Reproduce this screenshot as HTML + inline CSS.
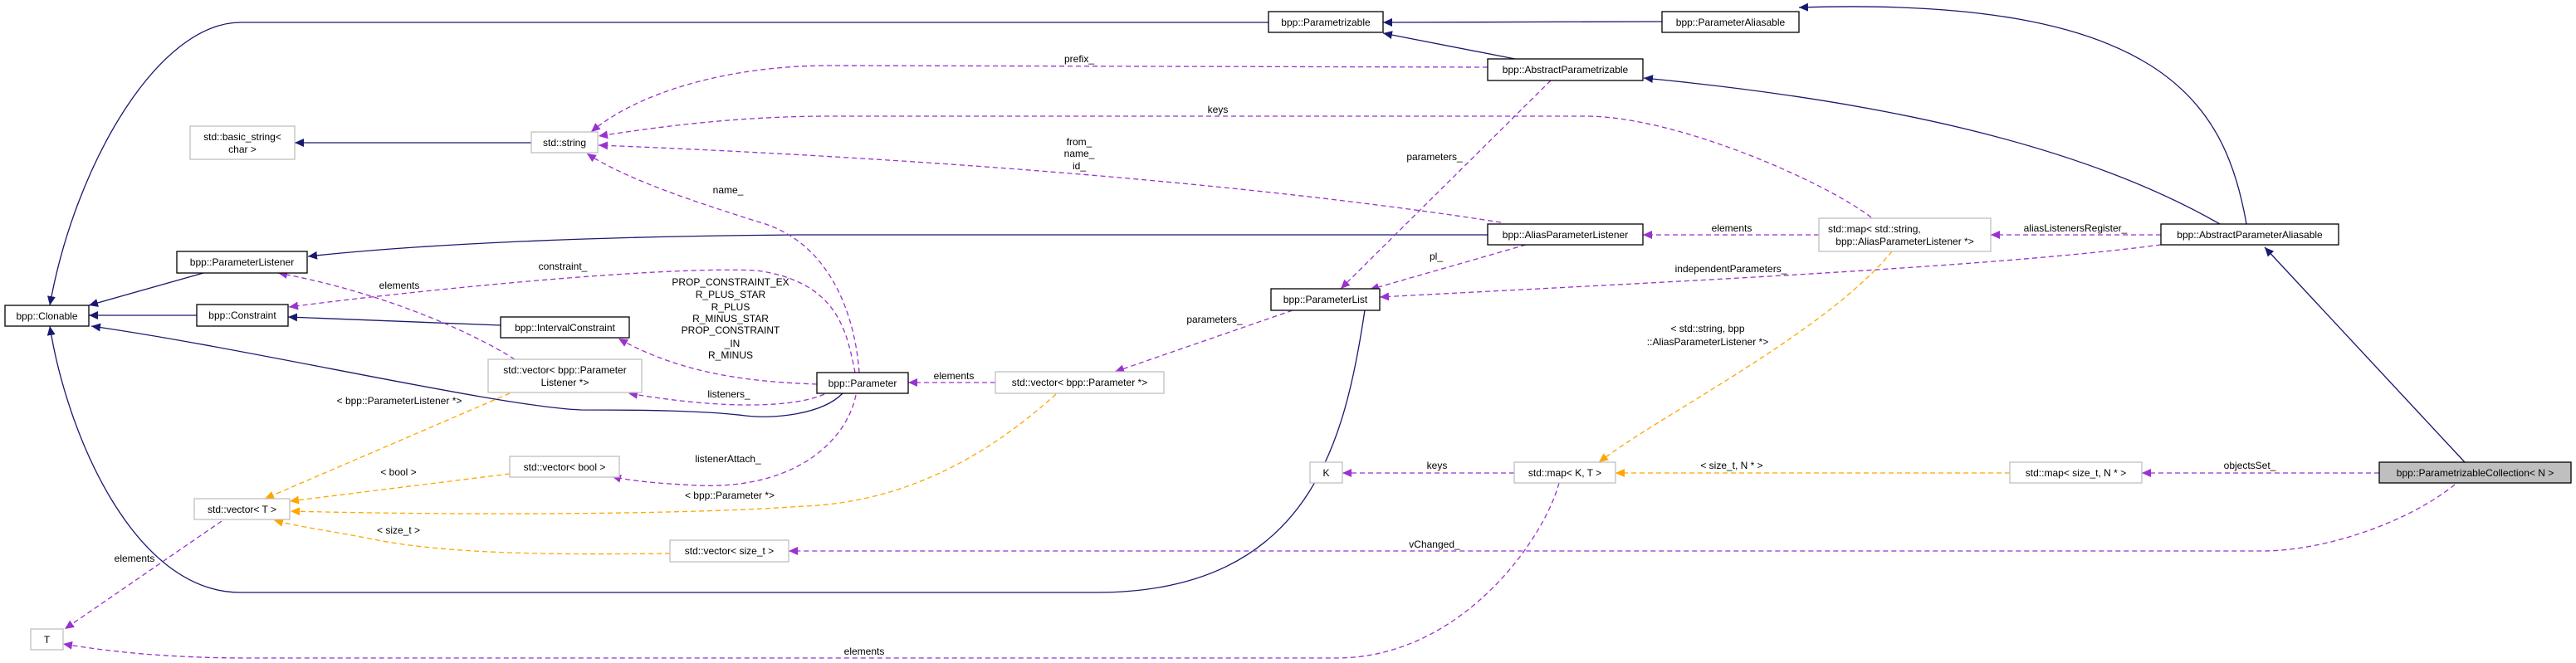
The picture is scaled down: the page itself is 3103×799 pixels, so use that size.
<!DOCTYPE html>
<html><head><meta charset="utf-8"><style>
html,body{margin:0;padding:0;background:#fff}
svg{display:block}
text{font-family:"Liberation Sans",Arial,sans-serif;font-size:12px;fill:#000}
.n{fill:#fff;stroke:#000;stroke-width:1.3}
.g{fill:#fff;stroke:#bfbfbf;stroke-width:1.3}
.inh{fill:none;stroke:#191970;stroke-width:1.3}
.p{fill:none;stroke:#9a32cd;stroke-width:1.3;stroke-dasharray:6,4}
.o{fill:none;stroke:#ffa500;stroke-width:1.3;stroke-dasharray:6,4}
</style></head><body>
<svg width="3103" height="799" viewBox="0 0 3103 799" xmlns="http://www.w3.org/2000/svg">
<defs>
<marker id="ai" markerUnits="userSpaceOnUse" markerWidth="12" markerHeight="10" refX="11" refY="5" orient="auto"><path d="M0,0 L11,5 L0,10 z" fill="#191970"/></marker>
<marker id="ap" markerUnits="userSpaceOnUse" markerWidth="12" markerHeight="10" refX="11" refY="5" orient="auto"><path d="M0,0 L11,5 L0,10 z" fill="#9a32cd"/></marker>
<marker id="ao" markerUnits="userSpaceOnUse" markerWidth="12" markerHeight="10" refX="11" refY="5" orient="auto"><path d="M0,0 L11,5 L0,10 z" fill="#ffa500"/></marker>
</defs>

<!-- inheritance edges -->
<path class="inh" marker-end="url(#ai)" d="M1528,27 L290,27 C190,27 90,200 60,368"/>
<path class="inh" marker-end="url(#ai)" d="M2002,26 L1666,27"/>
<path class="inh" marker-end="url(#ai)" d="M1825,71 L1666,40"/>
<path class="inh" marker-end="url(#ai)" d="M2706,270 C2680,120 2600,-5 2167,9"/>
<path class="inh" marker-end="url(#ai)" d="M2674,270 C2500,170 2250,120 1980,94"/>
<path class="inh" marker-end="url(#ai)" d="M2969,557 L2728,298"/>
<path class="inh" marker-end="url(#ai)" d="M1792,283 L960,283 C700,285 500,295 371,309"/>
<path class="inh" marker-end="url(#ai)" d="M245,329 L107,368"/>
<path class="inh" marker-end="url(#ai)" d="M237,380 L107,380"/>
<path class="inh" marker-end="url(#ai)" d="M603,392 L347,382"/>
<path class="inh" marker-end="url(#ai)" d="M1015,474 C990,500 930,505 898,501 C850,495 780,494 700,494 C600,490 300,420 110,393"/>
<path class="inh" marker-end="url(#ai)" d="M1644,374 C1620,530 1580,714 1320,714 L290,714 C160,714 80,520 60,393"/>
<path class="inh" marker-end="url(#ai)" d="M640,172 L355,172"/>

<!-- purple dashed -->
<path class="p" marker-end="url(#ap)" d="M1792,81 L1000,79 C880,79 770,110 712,159"/>
<path class="p" marker-end="url(#ap)" d="M2254,262 C2200,220 2020,140 1910,140 L1000,140 C880,140 780,155 721,164"/>
<path class="p" marker-end="url(#ap)" d="M1808,268 C1500,220 1100,190 721,175"/>
<path class="p" marker-end="url(#ap)" d="M1035,449 C1030,380 1000,290 912,267 C860,250 760,220 707,185"/>
<path class="p" marker-end="url(#ap)" d="M1030,449 C1020,400 1010,340 912,326 C800,320 500,350 348,370"/>
<path class="p" marker-end="url(#ap)" d="M620,433 C560,395 450,350 335,329"/>
<path class="p" marker-end="url(#ap)" d="M984,463 C900,460 820,450 745,408"/>
<path class="p" marker-end="url(#ap)" d="M993,475 C960,490 880,495 757,474"/>
<path class="p" marker-end="url(#ap)" d="M1031,476 C1020,530 960,590 840,585 C800,583 760,580 737,574"/>
<path class="p" marker-end="url(#ap)" d="M1199,461 L1094,461"/>
<path class="p" marker-end="url(#ap)" d="M1557,374 L1343,448"/>
<path class="p" marker-end="url(#ap)" d="M1868,97 L1615,348"/>
<path class="p" marker-end="url(#ap)" d="M1838,295 L1650,349"/>
<path class="p" marker-end="url(#ap)" d="M2603,295 C2400,322 2000,340 1662,358"/>
<path class="p" marker-end="url(#ap)" d="M2191,283 L1979,283"/>
<path class="p" marker-end="url(#ap)" d="M2603,283 L2398,283"/>
<path class="p" marker-end="url(#ap)" d="M1824,570 L1617,570"/>
<path class="p" marker-end="url(#ap)" d="M2866,570 L2580,570"/>
<path class="p" marker-end="url(#ap)" d="M2957,584 C2900,630 2800,664 2725,664 L950,664"/>
<path class="p" marker-end="url(#ap)" d="M1878,582 C1860,650 1760,793 1610,793 L300,793 C200,793 130,785 76,776"/>
<path class="p" marker-end="url(#ap)" d="M267,628 L78,758"/>

<!-- orange dashed -->
<path class="o" marker-end="url(#ao)" d="M614,474 L319,601"/>
<path class="o" marker-end="url(#ao)" d="M614,571 L349,604"/>
<path class="o" marker-end="url(#ao)" d="M1272,475 C1200,540 1100,605 968,610 C800,622 500,620 350,616"/>
<path class="o" marker-end="url(#ao)" d="M807,667 C700,668 550,670 450,650 C400,640 360,635 330,627"/>
<path class="o" marker-end="url(#ao)" d="M2279,303 C2200,400 2000,500 1926,557"/>
<path class="o" marker-end="url(#ao)" d="M2421,570 L1946,570"/>

<!-- nodes -->
<rect class="n" x="6" y="368" width="101" height="25"/><text x="56.5" y="385" text-anchor="middle">bpp::Clonable</text>
<rect class="n" x="213" y="303" width="157" height="26"/><text x="291.5" y="320" text-anchor="middle">bpp::ParameterListener</text>
<rect class="n" x="237" y="367" width="110" height="26"/><text x="292" y="384" text-anchor="middle">bpp::Constraint</text>
<rect class="g" x="229" y="152" width="126" height="40"/><text x="292" y="169" text-anchor="middle">std::basic_string&lt;</text><text x="292" y="184" text-anchor="middle">char &gt;</text>
<rect class="g" x="640" y="159" width="80" height="25"/><text x="680" y="176" text-anchor="middle">std::string</text>
<rect class="n" x="603" y="382" width="155" height="25"/><text x="680.5" y="399" text-anchor="middle">bpp::IntervalConstraint</text>
<rect class="g" x="588" y="433" width="185" height="40"/><text x="680.5" y="450" text-anchor="middle">std::vector&lt; bpp::Parameter</text><text x="680.5" y="465" text-anchor="middle">Listener *&gt;</text>
<rect class="n" x="984" y="449" width="110" height="25"/><text x="1039" y="466" text-anchor="middle">bpp::Parameter</text>
<rect class="g" x="614" y="550" width="132" height="25"/><text x="680" y="567" text-anchor="middle">std::vector&lt; bool &gt;</text>
<rect class="g" x="234" y="601" width="115" height="25"/><text x="291.5" y="618" text-anchor="middle">std::vector&lt; T &gt;</text>
<rect class="g" x="807" y="651" width="143" height="26"/><text x="878.5" y="668" text-anchor="middle">std::vector&lt; size_t &gt;</text>
<rect class="g" x="37" y="758" width="39" height="25"/><text x="56.5" y="775" text-anchor="middle">T</text>
<rect class="n" x="1528" y="14" width="138" height="25"/><text x="1597" y="31" text-anchor="middle">bpp::Parametrizable</text>
<rect class="n" x="2002" y="14" width="165" height="25"/><text x="2084.5" y="31" text-anchor="middle">bpp::ParameterAliasable</text>
<rect class="n" x="1792" y="71" width="187" height="26"/><text x="1885.5" y="88" text-anchor="middle">bpp::AbstractParametrizable</text>
<rect class="n" x="1792" y="270" width="187" height="25"/><text x="1885.5" y="287" text-anchor="middle">bpp::AliasParameterListener</text>
<rect class="n" x="1531" y="348" width="131" height="26"/><text x="1596.5" y="365" text-anchor="middle">bpp::ParameterList</text>
<rect class="g" x="1199" y="448" width="203" height="26"/><text x="1300.5" y="465" text-anchor="middle">std::vector&lt; bpp::Parameter *&gt;</text>
<rect class="g" x="1578" y="557" width="39" height="25"/><text x="1597.5" y="574" text-anchor="middle">K</text>
<rect class="g" x="1824" y="557" width="122" height="25"/><text x="1885" y="574" text-anchor="middle">std::map&lt; K, T &gt;</text>
<rect class="g" x="2191" y="263" width="207" height="40"/><text x="2202" y="280">std::map&lt; std::string,</text><text x="2294.5" y="295" text-anchor="middle">bpp::AliasParameterListener *&gt;</text>
<rect class="n" x="2603" y="270" width="214" height="25"/><text x="2710" y="287" text-anchor="middle">bpp::AbstractParameterAliasable</text>
<rect class="g" x="2421" y="557" width="159" height="25"/><text x="2500.5" y="574" text-anchor="middle">std::map&lt; size_t, N * &gt;</text>
<rect x="2866" y="557" width="231" height="25" fill="#bfbfbf" stroke="#000" stroke-width="1.3"/><text x="2981.5" y="574" text-anchor="middle">bpp::ParametrizableCollection&lt; N &gt;</text>

<!-- edge labels -->
<g text-anchor="middle">
<text x="877" y="233">name_</text>
<text x="678" y="325">constraint_</text>
<text x="481" y="348">elements</text>
<text x="880" y="344">PROP_CONSTRAINT_EX</text>
<text x="880" y="359">R_PLUS_STAR</text>
<text x="880" y="374">R_PLUS</text>
<text x="880" y="388">R_MINUS_STAR</text>
<text x="880" y="402">PROP_CONSTRAINT</text>
<text x="882" y="418">_IN</text>
<text x="880" y="432">R_MINUS</text>
<text x="878" y="479">listeners_</text>
<text x="481" y="487">&lt; bpp::ParameterListener *&gt;</text>
<text x="877" y="557">listenerAttach_</text>
<text x="480" y="573">&lt; bool &gt;</text>
<text x="879" y="601">&lt; bpp::Parameter *&gt;</text>
<text x="480" y="643">&lt; size_t &gt;</text>
<text x="162" y="677">elements</text>
<text x="1041" y="789">elements</text>
<text x="1300" y="75">prefix_</text>
<text x="1467" y="136">keys</text>
<text x="1300" y="175">from_</text>
<text x="1300" y="189">name_</text>
<text x="1300" y="204">id_</text>
<text x="1728" y="193">parameters_</text>
<text x="1730" y="313">pl_</text>
<text x="2085" y="328">independentParameters_</text>
<text x="2086" y="279">elements</text>
<text x="1463" y="389">parameters_</text>
<text x="2057" y="400">&lt; std::string, bpp</text>
<text x="2057" y="416">::AliasParameterListener *&gt;</text>
<text x="1149" y="457">elements</text>
<text x="1731" y="565">keys</text>
<text x="1728" y="660">vChanged_</text>
<text x="2086" y="565">&lt; size_t, N * &gt;</text>
<text x="2500" y="279">aliasListenersRegister_</text>
<text x="2710" y="565">objectsSet_</text>
</g>
</svg>
</body></html>
